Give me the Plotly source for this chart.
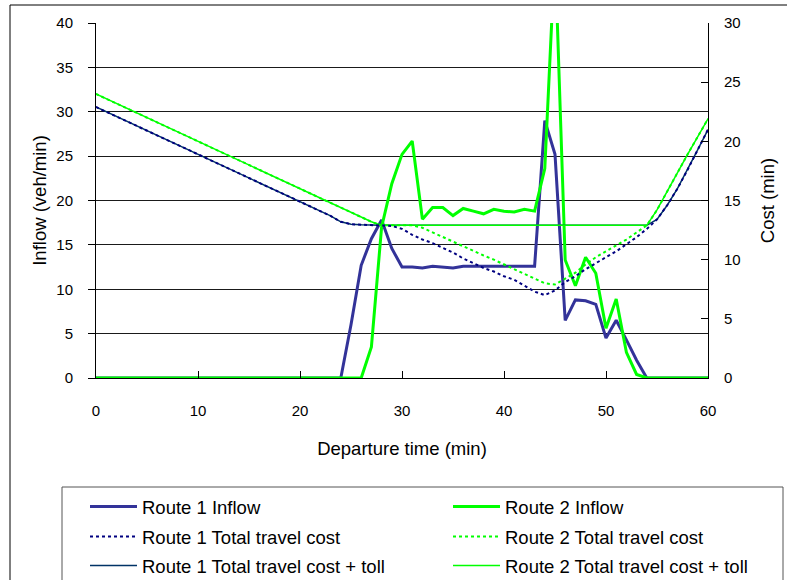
import plotly.graph_objects as go

# ---------------- data ----------------
departure_time = list(range(0, 61))  # minutes

route1_inflow = [0] * 25 + [
    6.0, 12.7, 15.7, 17.8, 14.6, 12.5, 12.5, 12.4, 12.6, 12.5,
    12.4, 12.6, 12.6, 12.6, 12.6, 12.6, 12.6, 12.6, 12.6, 29.0,
    25.2, 6.5, 8.8, 8.7, 8.3, 4.5, 6.5, 4.3, 2.0] + [0] * 7

route2_inflow = [0] * 27 + [
    3.5, 17.0, 21.9, 25.2, 26.7, 17.9, 19.2, 19.2, 18.3, 19.1,
    18.8, 18.5, 19.0, 18.8, 18.7, 19.0, 18.8, 23.6, 48.0, 13.3,
    10.4, 13.6, 11.8, 5.6, 8.9, 2.9, 0.4] + [0] * 7

route1_cost = [
    22.9, 22.5, 22.1, 21.7, 21.3, 20.9, 20.5, 20.1, 19.7, 19.3,
    18.9, 18.5, 18.1, 17.7, 17.3, 16.9, 16.5, 16.1, 15.7, 15.3,
    14.9, 14.5, 14.1, 13.7, 13.2, 13.0, 12.95, 12.9, 12.9, 12.85,
    12.6, 12.1, 11.7, 11.4, 11.0, 10.6, 10.1, 9.7, 9.3, 9.0,
    8.6, 8.3, 7.8, 7.3, 7.0, 7.4, 8.1, 8.6, 9.2, 9.7,
    10.2, 10.7, 11.3, 11.9, 12.6, 13.4, 14.6, 16.0, 17.6, 19.3,
    21.0]

route1_cost_toll = route1_cost[:28] + [12.9] * 27 + [13.4, 14.6, 16.0, 17.6, 19.3, 21.0]

route2_cost = [
    24.0, 23.6, 23.2, 22.8, 22.4, 22.0, 21.6, 21.2, 20.8, 20.4,
    20.0, 19.6, 19.2, 18.8, 18.4, 18.0, 17.6, 17.2, 16.8, 16.4,
    16.0, 15.6, 15.2, 14.8, 14.4, 14.0, 13.6, 13.2, 12.9, 12.9,
    12.9, 12.9, 12.7, 12.3, 11.9, 11.5, 11.1, 10.7, 10.35, 10.0,
    9.6, 9.2, 8.8, 8.4, 8.0, 7.9, 8.4, 8.9, 9.6, 10.2,
    10.7, 11.2, 11.7, 12.3, 12.9, 14.2, 15.8, 17.4, 18.9, 20.4,
    21.9]

route2_cost_toll = route2_cost[:28] + [12.9] * 27 + [14.2, 15.8, 17.4, 18.9, 20.4, 21.9]

x_ticks = [0, 10, 20, 30, 40, 50, 60]
y_left_ticks = [0, 5, 10, 15, 20, 25, 30, 35, 40]
y_right_ticks = [0, 5, 10, 15, 20, 25, 30]

# ---------------- styles ----------------
C_R1_IN = "#333399"
C_R1_COST = "#000080"
C_R1_TOLL = "#003366"
C_GREEN = "#00FF00"
FONT = "Liberation Sans, Arial, sans-serif"
TICK_SIZE = 15
TITLE_SIZE = 18.5
LEGEND_SIZE = 18.5

fig = go.Figure()

# lines drawn in the plot
fig.add_trace(go.Scatter(x=departure_time, y=route1_inflow, name="Route 1 Inflow",
                         mode="lines", line=dict(color=C_R1_IN, width=3), yaxis="y",
                         legend="legend"))
fig.add_trace(go.Scatter(x=departure_time, y=route2_inflow, name="Route 2 Inflow",
                         mode="lines", line=dict(color=C_GREEN, width=3), yaxis="y",
                         legend="legend2"))
fig.add_trace(go.Scatter(x=departure_time, y=route1_cost_toll, name="Route 1 Total travel cost + toll",
                         mode="lines", line=dict(color=C_R1_TOLL, width=1.5), yaxis="y2",
                         showlegend=False))
fig.add_trace(go.Scatter(x=departure_time, y=route2_cost_toll, name="Route 2 Total travel cost + toll",
                         mode="lines", line=dict(color=C_GREEN, width=1.5), yaxis="y2",
                         showlegend=False))
fig.add_trace(go.Scatter(x=departure_time, y=route1_cost, name="Route 1 Total travel cost",
                         mode="lines", line=dict(color=C_R1_COST, width=2, dash="3px,3px"), yaxis="y2",
                         legend="legend3"))
fig.add_trace(go.Scatter(x=departure_time, y=route2_cost, name="Route 2 Total travel cost",
                         mode="lines", line=dict(color=C_GREEN, width=2, dash="3px,3px"), yaxis="y2",
                         legend="legend4"))
# legend entries for the toll lines
fig.add_trace(go.Scatter(x=[None], y=[None], name="Route 1 Total travel cost + toll",
                         mode="lines", line=dict(color=C_R1_TOLL, width=1.5), yaxis="y2",
                         legend="legend5"))
fig.add_trace(go.Scatter(x=[None], y=[None], name="Route 2 Total travel cost + toll",
                         mode="lines", line=dict(color=C_GREEN, width=1.5), yaxis="y2",
                         legend="legend6"))

# plot area pixel geometry
W, H = 787, 580
L, R, T, B = 96, 79, 23, 202
pw, ph = W - L - R, H - T - B


def px(xp):
    return (xp - L) / pw


def py(yp):
    return (H - B - yp) / ph


legend_common = dict(orientation="v", yanchor="top", xanchor="left", itemwidth=47,
                     traceorder="normal", font=dict(size=LEGEND_SIZE),
                     bgcolor="rgba(0,0,0,0)", tracegroupgap=0)
col_x = [px(85), px(448)]
row_y = [py(488), py(518), py(547)]

fig.update_layout(
    width=W, height=H,
    margin=dict(l=L, r=R, t=T, b=B, autoexpand=False),
    paper_bgcolor="white", plot_bgcolor="white",
    font=dict(family=FONT, size=TICK_SIZE, color="black"),
    showlegend=True,
    legend=dict(x=col_x[0], y=row_y[0], **legend_common),
    legend2=dict(x=col_x[1], y=row_y[0], **legend_common),
    legend3=dict(x=col_x[0], y=row_y[1], **legend_common),
    legend4=dict(x=col_x[1], y=row_y[1], **legend_common),
    legend5=dict(x=col_x[0], y=row_y[2], **legend_common),
    legend6=dict(x=col_x[1], y=row_y[2], **legend_common),
    xaxis=dict(range=[0, 60], tickvals=x_ticks, ticks="inside", ticklen=7, tickcolor="black",
               showline=True, linecolor="black", linewidth=1, showgrid=False, zeroline=False,
               ticklabelstandoff=19, tickfont=dict(size=TICK_SIZE),
               title=dict(text="Departure time (min)", font=dict(size=TITLE_SIZE), standoff=24)),
    yaxis=dict(range=[0, 40], tickvals=y_left_ticks, ticks="outside", ticklen=7, tickcolor="black",
               showline=True, linecolor="black", linewidth=1, showgrid=True, gridcolor="#1a1a1a",
               gridwidth=1, zeroline=False, ticklabelstandoff=12, tickfont=dict(size=TICK_SIZE),
               title=dict(text="Inflow (veh/min)", font=dict(size=TITLE_SIZE), standoff=4)),
    yaxis2=dict(range=[0, 30], tickvals=y_right_ticks, overlaying="y", side="right",
                ticks="inside", ticklen=7, tickcolor="black", showline=True, linecolor="black",
                linewidth=1, showgrid=False, zeroline=False, ticklabelstandoff=12,
                tickfont=dict(size=TICK_SIZE),
                title=dict(text="Cost (min)", font=dict(size=TITLE_SIZE), standoff=21)),
    shapes=[
        dict(type="rect", xref="paper", yref="paper", x0=px(10), x1=px(800), y0=py(600), y1=py(5),
             line=dict(color="black", width=1), fillcolor="rgba(0,0,0,0)", layer="below"),
        dict(type="rect", xref="paper", yref="paper", x0=px(62), x1=px(783), y0=py(600), y1=py(487),
             line=dict(color="#555555", width=1), fillcolor="rgba(0,0,0,0)", layer="below"),
    ],
)

fig.write_html("out.html", config={"displayModeBar": False},
               post_script="document.body.style.margin='0';")
